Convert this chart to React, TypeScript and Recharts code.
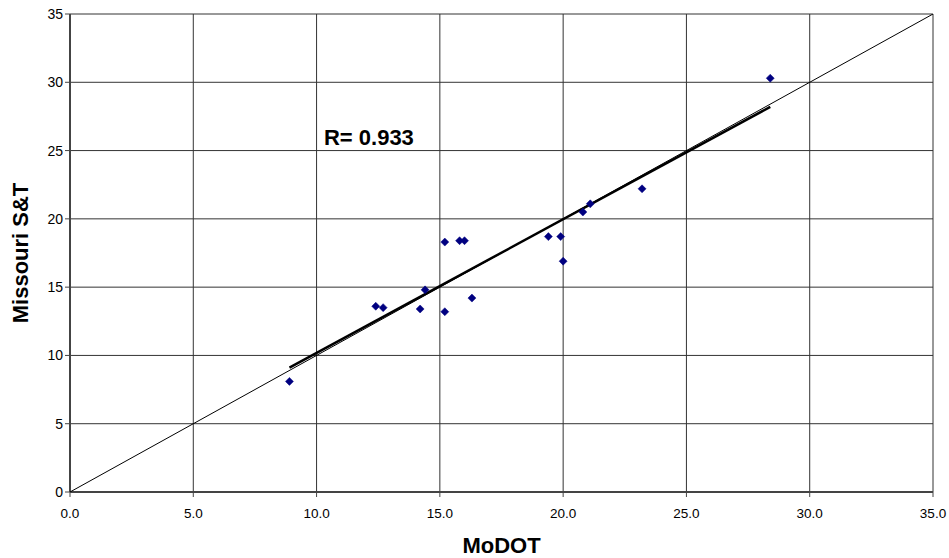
import React from "react";
import {
  ScatterChart,
  Scatter,
  XAxis,
  YAxis,
  CartesianGrid,
  Label,
  ReferenceDot,
} from "recharts";

// MoDOT vs Missouri S&T measurements
const modot = [8.9, 12.4, 12.7, 14.2, 14.4, 15.2, 15.2, 15.8, 16.0, 16.3, 19.4, 19.9, 20.0, 20.8, 21.1, 23.2, 28.4];
const mst = [8.1, 13.6, 13.5, 13.4, 14.8, 18.3, 13.2, 18.4, 18.4, 14.2, 18.7, 18.7, 16.9, 20.5, 21.1, 22.2, 30.3];

// regression line end points
const fitX = [8.9, 28.4];
const fitY = [9.1, 28.2];

// 1:1 line
const unitX = [0, 35];
const unitY = [0, 35];

const ticks = [0, 5, 10, 15, 20, 25, 30, 35];

const points = modot.map((x, i) => ({ x, y: mst[i] }));
const fit = fitX.map((x, i) => ({ x, y: fitY[i] }));
const unit = unitX.map((x, i) => ({ x, y: unitY[i] }));

const font = "Arial, 'Liberation Sans', sans-serif";

const Diamond = (props: any) => {
  const { cx, cy } = props;
  if (cx == null || cy == null) return <g />;
  const r = 4;
  return (
    <polygon
      points={`${cx},${cy - r} ${cx + r},${cy} ${cx},${cy + r} ${cx - r},${cy}`}
      fill="#000080"
      stroke="#000080"
      strokeWidth={0.5}
    />
  );
};

const NoDot = () => <g />;

export default function App() {
  return (
    <div style={{ position: "absolute", left: 0, top: 0, background: "#fff" }}>
      <ScatterChart
        width={949}
        height={558}
        margin={{ top: 14, right: 16, bottom: 5, left: 10 }}
        style={{ fontFamily: font }}
      >
        <CartesianGrid stroke="#333" strokeWidth={1} />
        <XAxis
          type="number"
          dataKey="x"
          domain={[0, 35]}
          ticks={ticks}
          tickFormatter={(v: number) => v.toFixed(1)}
          axisLine={{ stroke: "#444", strokeWidth: 2 }}
          tickLine={{ stroke: "#444" }}
          tickSize={5}
          tickMargin={11}
          tick={{ fill: "#000", fontSize: 13.5, fontFamily: font }}
          height={61}
          allowDataOverflow
        >
          <Label
            value="MoDOT"
            position="insideBottom"
            offset={0}
            style={{ fontSize: 22, fontWeight: "bold", fill: "#000", fontFamily: font }}
          />
        </XAxis>
        <YAxis
          type="number"
          dataKey="y"
          domain={[0, 35]}
          ticks={ticks}
          axisLine={{ stroke: "#444", strokeWidth: 2 }}
          tickLine={{ stroke: "#444" }}
          tickSize={5}
          tick={{ fill: "#000", fontSize: 14, fontFamily: font }}
          width={60}
          allowDataOverflow
        >
          <Label
            value="Missouri S&T"
            angle={-90}
            position="insideLeft"
            offset={10}
            style={{ fontSize: 22, fontWeight: "bold", fill: "#000", fontFamily: font, textAnchor: "middle" }}
          />
        </YAxis>
        <Scatter
          data={unit}
          line={{ stroke: "#000", strokeWidth: 1 }}
          shape={NoDot}
          isAnimationActive={false}
        />
        <Scatter
          data={fit}
          line={{ stroke: "#000", strokeWidth: 2.5 }}
          shape={NoDot}
          isAnimationActive={false}
        />
        <Scatter data={points} shape={Diamond} isAnimationActive={false} />
        <ReferenceDot x={10.3} y={26.0} r={0} fill="none" stroke="none">
          <Label
            value="R= 0.933"
            position="right"
            offset={0}
            style={{ fontSize: 22, fontWeight: "bold", fill: "#000", fontFamily: font }}
          />
        </ReferenceDot>
      </ScatterChart>
    </div>
  );
}
